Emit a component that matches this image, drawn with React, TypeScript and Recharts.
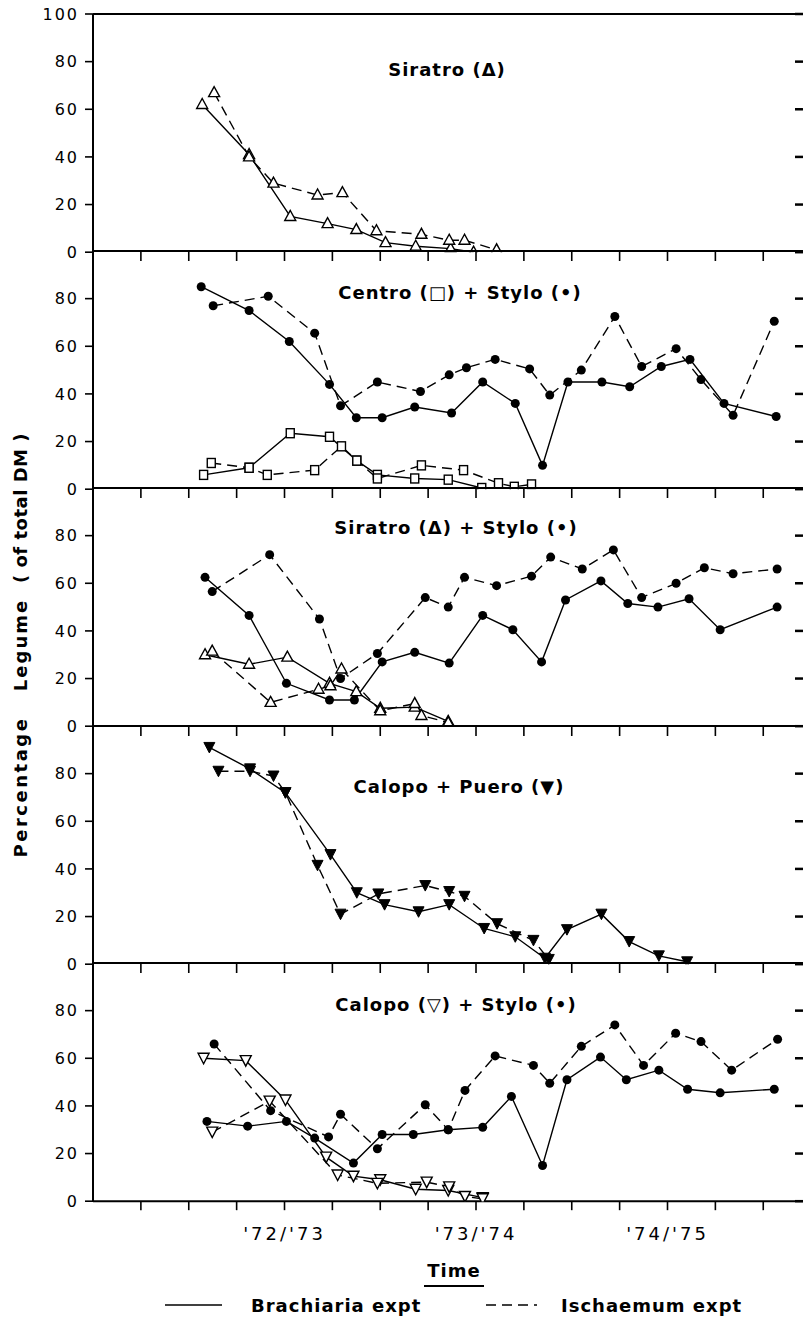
import React from "react";
import { LineChart, Line, XAxis, YAxis } from "recharts";

// x = time in quarter-year steps from the left axis, y = % legume of total DM
// Panel 1: Siratro
const sirBrachX = [2.28, 3.26, 4.12, 4.9, 5.5, 6.11, 6.74, 7.47, 7.95];
const sirBrachY = [62, 41, 15, 12, 9.5, 4, 2.5, 1.5, 0];
const sirIschX = [2.53, 3.26, 3.77, 4.69, 5.21, 5.92, 6.86, 7.44, 7.76, 8.43];
const sirIschY = [67, 40, 29, 24, 25, 9, 7.5, 5, 5, 1];

// Panel 2: Centro + Stylo
const cs_styloBrachX = [2.26, 3.26, 4.1, 4.94, 5.5, 6.04, 6.72, 7.49, 8.14, 8.82, 9.39, 9.92, 10.63, 11.21, 11.87, 12.47, 13.18, 14.27];
const cs_styloBrachY = [85, 75, 62, 44, 30, 30, 34.5, 32, 45, 36, 10, 45, 45, 43, 51.5, 54.5, 36, 30.5];
const cs_styloIschX = [2.51, 3.66, 4.63, 5.17, 5.94, 6.84, 7.44, 7.8, 8.4, 9.12, 9.54, 10.2, 10.9, 11.46, 12.18, 12.7, 13.37, 14.23];
const cs_styloIschY = [77, 81, 65.5, 35, 45, 41, 48, 51, 54.5, 50.5, 39.5, 50, 72.5, 51.5, 59, 46, 31, 70.5];
const cs_centroBrachX = [2.31, 3.26, 4.12, 4.94, 5.51, 5.94, 6.72, 7.42, 8.12];
const cs_centroBrachY = [6, 9, 23.5, 22, 12, 6, 4.5, 4, 0.5];
const cs_centroIschX = [2.47, 3.26, 3.64, 4.63, 5.19, 5.51, 5.94, 6.86, 7.74, 8.47, 8.8, 9.16];
const cs_centroIschY = [11, 9, 6, 8, 18, 12, 4.5, 10, 8, 2.5, 1, 2];

// Panel 3: Siratro + Stylo
const ss_styloBrachX = [2.34, 3.26, 4.04, 4.94, 5.46, 6.04, 6.72, 7.44, 8.14, 8.77, 9.37, 9.87, 10.61, 11.17, 11.8, 12.45, 13.1, 14.29];
const ss_styloBrachY = [62.5, 46.5, 18, 11, 11, 27, 31, 26.5, 46.5, 40.5, 27, 53, 61, 51.5, 50, 53.5, 40.5, 50];
const ss_styloIschX = [2.49, 3.69, 4.73, 5.17, 5.94, 6.94, 7.42, 7.76, 8.43, 9.16, 9.56, 10.22, 10.87, 11.46, 12.18, 12.77, 13.37, 14.29];
const ss_styloIschY = [56.5, 72, 45, 20, 30.5, 54, 50, 62.5, 59, 63, 71, 66, 74, 54, 60, 66.5, 64, 66];
const ss_siraBrachX = [2.34, 3.26, 4.06, 4.94, 5.5, 6.0, 6.72, 7.42];
const ss_siraBrachY = [30, 26, 29, 18, 14.5, 7.5, 8, 2];
const ss_siraIschX = [2.49, 3.71, 4.71, 4.96, 5.19, 6.0, 6.72, 6.86, 7.42];
const ss_siraIschY = [31.5, 10, 15.5, 17, 24, 6.5, 9.5, 4.5, 1.5];

// Panel 4: Calopo + Puero
const cp_brachX = [2.43, 3.28, 4.02, 4.96, 5.51, 6.09, 6.8, 7.44, 8.17, 8.82, 9.44, 9.9, 10.62, 11.2, 11.82, 12.41];
const cp_brachY = [91, 82, 72, 46, 30, 25, 22, 25, 15, 11.5, 2.5, 14.5, 21, 9.5, 3.5, 1];
const cp_ischX = [2.62, 3.28, 3.77, 4.02, 4.69, 5.17, 5.96, 6.94, 7.44, 7.76, 8.44, 9.2, 9.52];
const cp_ischY = [81, 81, 79, 72, 41.5, 21, 29.5, 33, 30.5, 28.5, 17, 10, 2];

// Panel 5: Calopo + Stylo
const cst_styloBrachX = [2.38, 3.23, 4.04, 4.63, 5.44, 6.04, 6.69, 7.42, 8.14, 8.74, 9.39, 9.9, 10.6, 11.14, 11.82, 12.42, 13.1, 14.23];
const cst_styloBrachY = [33.5, 31.5, 33.5, 26.5, 16, 28, 28, 30, 31, 44, 15, 51, 60.5, 51, 55, 47, 45.5, 47];
const cst_styloIschX = [2.53, 3.71, 4.92, 5.17, 5.94, 6.94, 7.42, 7.77, 8.4, 9.2, 9.54, 10.2, 10.9, 11.5, 12.17, 12.7, 13.34, 14.3];
const cst_styloIschY = [66, 38, 27, 36.5, 22, 40.5, 30, 46.5, 61, 57, 49.5, 65, 74, 57, 70.5, 67, 55, 68];
const cst_calBrachX = [2.31, 3.19, 4.02, 4.87, 5.44, 6.0, 6.74, 7.42, 8.14];
const cst_calBrachY = [60, 59, 42.5, 18.5, 10.5, 9, 5, 4.5, 1.5];
const cst_calIschX = [2.49, 3.69, 5.11, 5.94, 6.97, 7.44, 7.77, 8.14];
const cst_calIschY = [29, 42, 11, 7.5, 8, 6, 2, 1];

const xTicks = [1, 2, 3, 4, 5, 6, 7, 8, 9, 10, 11, 12, 13, 14];
const seasonTicks = [4, 8, 12];
const seasonLabels = ["'72/'73", "'73/'74", "'74/'75"];
const yTicksTop = [0, 20, 40, 60, 80, 100];
const yTicks = [0, 20, 40, 60, 80];

const W = 803;
const LEFT = 93;
const TOP = 15;
const PH = 237.2;
const XMAX = 14.83;
const PAD = 12;
const FONT = "'DejaVu Sans', sans-serif";

type Marker = "tri" | "sq" | "dot" | "down" | "downOpen";
type Series = { xs: number[]; ys: number[]; dashed: boolean; marker: Marker };

const zip = (xs: number[], ys: number[]) => xs.map((x, i) => ({ x, y: ys[i] }));

function markerRenderer(kind: Marker) {
  return (p: any) => {
    const { cx, cy, index } = p;
    const k = `m-${index}`;
    if (cx == null || cy == null) return <g key={k} />;
    const sw = 1.4;
    switch (kind) {
      case "tri":
        return (
          <polygon key={k} points={`${cx},${cy - 6} ${cx - 5.5},${cy + 4} ${cx + 5.5},${cy + 4}`}
            fill="#fff" stroke="#000" strokeWidth={sw} />
        );
      case "sq":
        return <rect key={k} x={cx - 4} y={cy - 4.5} width={8} height={9} fill="#fff" stroke="#000" strokeWidth={sw} />;
      case "dot":
        return <circle key={k} cx={cx} cy={cy} r={4.5} fill="#000" />;
      case "down":
        return (
          <polygon key={k} points={`${cx - 5.5},${cy - 5} ${cx + 5.5},${cy - 5} ${cx},${cy + 5.5}`}
            fill="#000" stroke="#000" strokeWidth={1} />
        );
      default:
        return (
          <polygon key={k} points={`${cx - 5.5},${cy - 5} ${cx + 5.5},${cy - 5} ${cx},${cy + 5.5}`}
            fill="#fff" stroke="#000" strokeWidth={sw} />
        );
    }
  };
}

// tick label that draws nothing, so the tick lines stay
const NoLabel = () => <g />;

function SeasonTick(p: any) {
  const i = seasonTicks.indexOf(p.payload.value);
  if (i < 0) return <g />;
  return (
    <text x={p.x} y={p.y} dy="0.71em" textAnchor="middle" fill="#000" fontSize={18} fontFamily={FONT} letterSpacing={3}>
      {seasonLabels[i]}
    </text>
  );
}

const panels: Series[][] = [
  [
    { xs: sirBrachX, ys: sirBrachY, dashed: false, marker: "tri" },
    { xs: sirIschX, ys: sirIschY, dashed: true, marker: "tri" },
  ],
  [
    { xs: cs_styloBrachX, ys: cs_styloBrachY, dashed: false, marker: "dot" },
    { xs: cs_styloIschX, ys: cs_styloIschY, dashed: true, marker: "dot" },
    { xs: cs_centroBrachX, ys: cs_centroBrachY, dashed: false, marker: "sq" },
    { xs: cs_centroIschX, ys: cs_centroIschY, dashed: true, marker: "sq" },
  ],
  [
    { xs: ss_styloBrachX, ys: ss_styloBrachY, dashed: false, marker: "dot" },
    { xs: ss_styloIschX, ys: ss_styloIschY, dashed: true, marker: "dot" },
    { xs: ss_siraBrachX, ys: ss_siraBrachY, dashed: false, marker: "tri" },
    { xs: ss_siraIschX, ys: ss_siraIschY, dashed: true, marker: "tri" },
  ],
  [
    { xs: cp_brachX, ys: cp_brachY, dashed: false, marker: "down" },
    { xs: cp_ischX, ys: cp_ischY, dashed: true, marker: "down" },
  ],
  [
    { xs: cst_styloBrachX, ys: cst_styloBrachY, dashed: false, marker: "dot" },
    { xs: cst_styloIschX, ys: cst_styloIschY, dashed: true, marker: "dot" },
    { xs: cst_calBrachX, ys: cst_calBrachY, dashed: false, marker: "downOpen" },
    { xs: cst_calIschX, ys: cst_calIschY, dashed: true, marker: "downOpen" },
  ],
];

const titles = [
  { text: "Siratro (\u0394)", x: 447, y: 76 },
  { text: "Centro (\u25A1) + Stylo (\u2022)", x: 460, y: 299 },
  { text: "Siratro (\u0394) + Stylo (\u2022)", x: 456, y: 534 },
  { text: "Calopo + Puero (\u25BC)", x: 459, y: 793 },
  { text: "Calopo (\u25BD) + Stylo (\u2022)", x: 456, y: 1011 },
];

const axisStroke = { stroke: "#000", strokeWidth: 2 };
const tickStroke = { stroke: "#000", strokeWidth: 1.6 };

function Panel({ index, series }: { index: number; series: Series[] }) {
  const last = index === panels.length - 1;
  const bottomH = last ? 48 : 0;
  const height = PAD + PH + (last ? bottomH : PAD);
  const ticks = index === 0 ? yTicksTop : yTicks;
  return (
    <div style={{ position: "absolute", left: 0, top: TOP + index * PH - PAD }}>
      <LineChart width={W} height={height} margin={{ top: PAD - 1, right: 0, bottom: last ? 0 : PAD, left: 0 }}>
        <XAxis
          xAxisId="t"
          orientation="top"
          type="number"
          dataKey="x"
          domain={[0, XMAX]}
          allowDataOverflow
          ticks={xTicks}
          interval={0}
          mirror
          height={1}
          tick={NoLabel}
          tickLine={index > 0 ? tickStroke : false}
          tickSize={10}
          axisLine={axisStroke}
        />
        {last && (
          <XAxis
            xAxisId="b"
            orientation="bottom"
            type="number"
            dataKey="x"
            domain={[0, XMAX]}
            allowDataOverflow
            ticks={xTicks}
            interval={0}
            height={bottomH}
            tickSize={9}
            tickMargin={17}
            tickLine={tickStroke}
            axisLine={axisStroke}
            tick={SeasonTick}
          />
        )}
        <YAxis
          yAxisId="l"
          type="number"
          domain={[0, 100]}
          allowDataOverflow
          ticks={ticks}
          interval={0}
          width={LEFT}
          tickSize={8}
          tickMargin={6}
          tickLine={tickStroke}
          axisLine={axisStroke}
          tick={{ fill: "#000", fontSize: 16, fontFamily: FONT, letterSpacing: 2 }}
        />
        <YAxis
          yAxisId="r"
          orientation="right"
          type="number"
          domain={[0, 100]}
          allowDataOverflow
          ticks={ticks}
          interval={0}
          width={1}
          mirror
          tick={NoLabel}
          tickSize={8}
          tickLine={{ stroke: "#000", strokeWidth: 2.5 }}
          axisLine={false}
        />
        {series.map((s, i) => (
          <Line
            key={i}
            xAxisId="t"
            yAxisId="l"
            data={zip(s.xs, s.ys)}
            dataKey="y"
            type="linear"
            stroke="#000"
            strokeWidth={1.4}
            strokeDasharray={s.dashed ? "10 6" : undefined}
            dot={markerRenderer(s.marker)}
            activeDot={false}
            isAnimationActive={false}
          />
        ))}
        {/* invisible copy of the first series so the right / bottom axes get a scale */}
        <Line
          xAxisId={last ? "b" : "t"}
          yAxisId="r"
          data={zip(series[0].xs, series[0].ys)}
          dataKey="y"
          stroke="none"
          dot={false}
          activeDot={false}
          legendType="none"
          isAnimationActive={false}
        />
      </LineChart>
    </div>
  );
}

export default function App() {
  const txt = { fontFamily: FONT, fontWeight: 700, fill: "#000" } as const;
  return (
    <div style={{ position: "absolute", left: 0, top: 0, width: W, height: 1318, background: "#fff" }}>
      {panels.map((s, i) => (
        <Panel key={i} index={i} series={s} />
      ))}
      <svg width={W} height={1318} style={{ position: "absolute", left: 0, top: 0, pointerEvents: "none" }}>
        {titles.map((t) => (
          <text key={t.text} x={t.x} y={t.y} textAnchor="middle" fontSize={18} letterSpacing={1} {...txt}>
            {t.text}
          </text>
        ))}
        <text x={27} y={787} transform="rotate(-90 27 787)" textAnchor="middle" fontSize={18} letterSpacing={2.5} {...txt}>
          Percentage
        </text>
        <text x={27} y={645} transform="rotate(-90 27 645)" textAnchor="middle" fontSize={18} letterSpacing={2} {...txt}>
          Legume
        </text>
        <text x={27} y={508} transform="rotate(-90 27 508)" textAnchor="middle" fontSize={18} letterSpacing={0.5} {...txt}>
          ( of total DM )
        </text>
        <text x={454} y={1277} textAnchor="middle" fontSize={18} letterSpacing={1} {...txt}>
          Time
        </text>
        <line x1={424} x2={484} y1={1286} y2={1286} stroke="#000" strokeWidth={2} />
        <line x1={165} x2={222} y1={1305} y2={1305} stroke="#000" strokeWidth={1.5} />
        <text x={251} y={1312} fontSize={18} letterSpacing={1} {...txt}>
          Brachiaria expt
        </text>
        <line x1={486} x2={537} y1={1305} y2={1305} stroke="#000" strokeWidth={1.5} strokeDasharray="10 6" />
        <text x={561} y={1312} fontSize={18} letterSpacing={1} {...txt}>
          Ischaemum expt
        </text>
      </svg>
    </div>
  );
}
